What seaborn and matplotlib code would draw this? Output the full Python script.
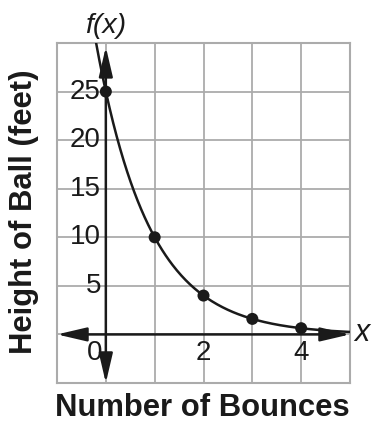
import numpy as np
import pandas as pd
import matplotlib
matplotlib.use("Agg")
import matplotlib.pyplot as plt
import seaborn as sns

# Data
bounces = [0, 1, 2, 3, 4]
heights = [25, 10, 4, 1.6, 0.64]
initial_height = 25
ratio = 0.4
x_ticks_labeled = [0, 2, 4]
y_ticks_labeled = [5, 10, 15, 20, 25]
x_title = "Number of Bounces"
y_title = "Height of Ball (feet)"

sns.set_style("white")
plt.rcParams["font.family"] = ["Liberation Sans", "DejaVu Sans"]

fig = plt.figure(figsize=(3.72, 4.26), dpi=100)
ax = fig.add_axes([57/372, 43/426, (350-57)/372, (383-43)/426])
ax.set_xlim(-1, 5)
ax.set_ylim(-5, 30)

grid_c = "#ababab"
ax.set_xticks(np.arange(-1, 6, 1))
ax.set_yticks(np.arange(-5, 31, 5))
ax.tick_params(length=0, labelbottom=False, labelleft=False)
ax.grid(True, color=grid_c, lw=1.3)
for s in ax.spines.values():
    s.set_color(grid_c)
    s.set_linewidth(1.5)

# curve
xs = np.linspace(-0.35, 5, 300)
curve = pd.DataFrame({"x": xs, "y": initial_height * ratio ** xs})
sns.lineplot(data=curve, x="x", y="y", ax=ax, color="#1a1a1a", lw=1.8, zorder=4)

pts = pd.DataFrame({"x": bounces, "y": heights})
sns.scatterplot(data=pts, x="x", y="y", ax=ax, color="#1a1a1a", s=75,
                edgecolor="none", zorder=5)

ax.set_xlabel("")
ax.set_ylabel("")

arrow_kw = dict(arrowstyle="<|-|>,head_length=1.8,head_width=0.42",
                mutation_scale=10, lw=1.8, color="#1a1a1a",
                shrinkA=0, shrinkB=0)
ax.annotate("", xy=(5, 0), xytext=(-1, 0), arrowprops=arrow_kw,
            annotation_clip=False, zorder=3)
ax.annotate("", xy=(0, 29.6), xytext=(0, -5), arrowprops=arrow_kw,
            annotation_clip=False, zorder=3)

for v in y_ticks_labeled:
    ax.text(-0.1, v, str(v), ha="right", va="center", fontsize=20,
            color="#1a1a1a", zorder=2)
for v in x_ticks_labeled:
    xx = -0.22 if v == 0 else v
    ax.text(xx, -1.9, str(v), ha="center", va="center", fontsize=20,
            color="#1a1a1a", zorder=2)

ax.text(0, 31.8, "f(x)", ha="center", va="center", fontsize=20.5,
        style="italic", color="#1a1a1a", clip_on=False)
ax.text(5.24, 0.1, "x", ha="center", va="center", fontsize=22,
        style="italic", color="#1a1a1a", clip_on=False)

fig.text(202/372, 1 - 408/426, x_title, ha="center", va="center",
         fontsize=22.3, fontweight="bold", color="#1a1a1a")
fig.text(24/372, 1 - 212/426, y_title, ha="center", va="center",
         rotation=90, fontsize=22.3, fontweight="bold", color="#1a1a1a")

fig.savefig("out.png", dpi=100)
